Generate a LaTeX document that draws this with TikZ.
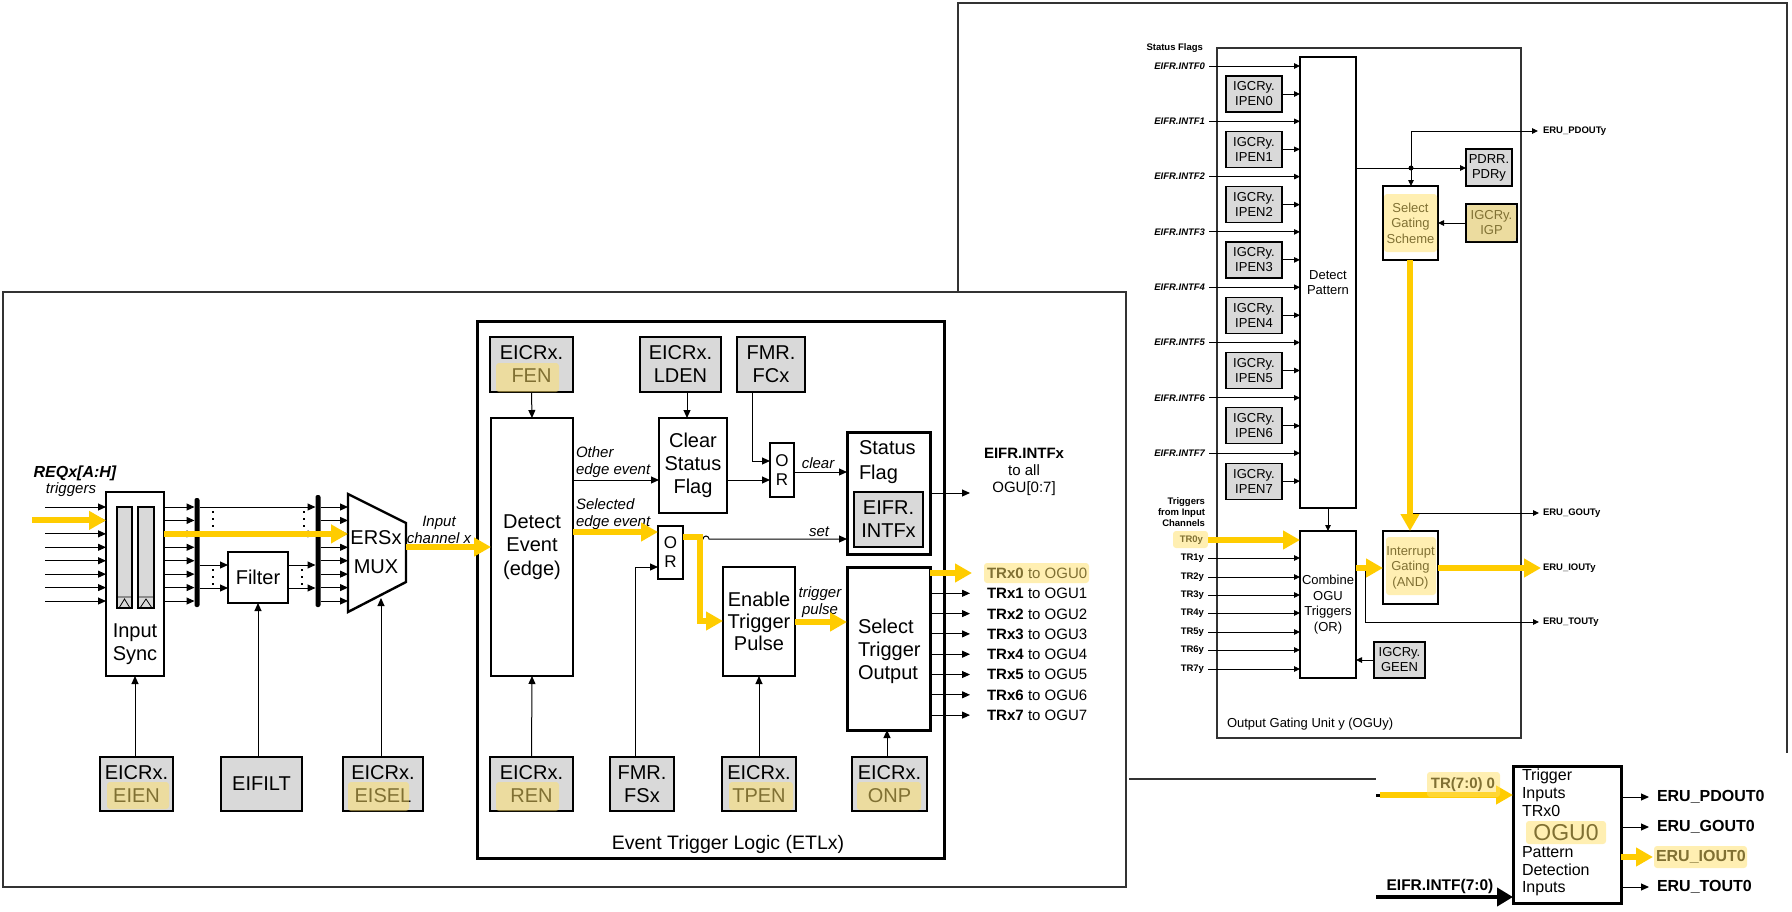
\documentclass[tikz,border=0pt]{standalone}
\usepackage{fontspec}
\setmainfont{Liberation Sans}
\usetikzlibrary{arrows.meta}
\definecolor{regfill}{HTML}{D9D9D9}
\definecolor{yel}{HTML}{FFCC00}
\definecolor{hlc}{HTML}{FFE066}
\definecolor{frm}{HTML}{333333}
\newcommand\fsz[2]{\fontsize{#1pt}{#2pt}\selectfont}
\begin{document}
\begin{tikzpicture}[x=1pt,y=-1pt,
  every node/.style={inner sep=0pt,outer sep=0pt},
  blk/.style={draw,line width=2.6pt,fill=white,align=center,font=\fsz{20}{23}},
  reg/.style={draw,line width=2.6pt,fill=regfill,align=center,font=\fsz{20}{23}},
  oblk/.style={draw,line width=1.2pt,fill=white,align=center,font=\fsz{13}{15.5}},
  oreg/.style={draw,line width=1.2pt,fill=regfill,align=center,font=\fsz{13}{15}},
  arr/.style={line width=1pt,-{Triangle[length=8pt,width=7pt]}},
  sarr/.style={line width=0.9pt,-{Triangle[length=6pt,width=5.5pt]}},
  yarr/.style={line width=6pt,draw=yel,-{Triangle[length=17pt,width=18pt]}},
  busbar/.style={fill=black,rounded corners=2pt,minimum width=5pt},
  dotline/.style={line width=2pt,dash pattern=on 2pt off 5pt},
  lab/.style={font=\fsz{15}{17}\itshape},
  olab/.style={font=\fsz{9.5}{11}\bfseries},
  hl/.style={fill=hlc,fill opacity=0.5,rounded corners=3pt}
]
\useasboundingbox (0,0) rectangle (1792,911);

% ---------- outer frames ----------
\draw[frm,line width=1.5pt] (3,292) rectangle (1126,887);
\draw[frm,line width=1.3pt] (958,291) -- (958,3) -- (1787,3) -- (1787,753);
\draw[frm,line width=1.2pt] (1129,779) -- (1376,779);

% ---------- input stage ----------
\node[font=\fsz{16}{18}\bfseries\itshape] (req) at (75,473) {REQx[A:H]};
\node[lab] (trg) at (71,490) {triggers};

\node[draw,line width=1.6pt,fill=white,minimum width=58pt,minimum height=184pt] (sync) at (135,584) {};
\node[font=\fsz{20}{23},align=center] (synct) at (135,644) {Input\\Sync};
\node[draw,line width=1.2pt,fill=regfill,minimum width=15pt,minimum height=101pt] (bar1) at (124.5,557.5) {};
\node[draw,line width=1.2pt,fill=regfill,minimum width=16pt,minimum height=101pt] (bar2) at (146,557.5) {};
\draw[line width=0.8pt] (117,597) -- (132,597) (119,608) -- (124.5,599) -- (130,608);
\draw[line width=0.8pt] (138,597) -- (154,597) (140,608) -- (146,599) -- (152,608);

\node[busbar,minimum height=109pt] (bus1) at (197,552.5) {};
\node[busbar,minimum height=112pt] (bus2) at (318,551) {};
\node[draw,line width=1.3pt,fill=white,minimum width=60pt,minimum height=51pt,font=\fsz{20}{23}] (filter) at (258,577.5) {Filter};

\draw[line width=2.4pt,fill=white] (348,494) -- (406,523) -- (406,582) -- (348,612) -- cycle;
\coordinate (muxw) at (348,553);
\coordinate (muxe) at (406,547);
\node[font=\fsz{20}{29},align=center] (muxt) at (376,552) {ERSx\\MUX};

\foreach \i in {0,...,7} {
  \pgfmathsetmacro\yy{507+13.43*\i}
  \draw[arr] (45,\yy) -- (sync.west |- 0,\yy);
  \draw[arr] (sync.east |- 0,\yy) -- (bus1.west |- 0,\yy);
  \draw[arr] (bus2.east |- 0,\yy) -- (muxw |- 0,\yy);
}
\draw[arr] (bus1.east |- 0,507) -- (bus2.west |- 0,507);
\draw[arr] (bus1.east |- 0,533.9) -- (bus2.west |- 0,533.9);
\draw[arr] (bus1.east |- 0,565) -- (filter.west |- 0,565);
\draw[arr] (bus1.east |- 0,588) -- (filter.west |- 0,588);
\draw[arr] (filter.east |- 0,565) -- (bus2.west |- 0,565);
\draw[arr] (filter.east |- 0,588) -- (bus2.west |- 0,588);
\draw[dotline] (213,511) -- (213,531);
\draw[dotline] (304,511) -- (304,531);
\draw[dotline] (213,569) -- (213,585);
\draw[dotline] (302,569) -- (302,585);

\draw[yarr] (32,520.4) -- (sync.west |- 0,520.4);
\draw[yarr] (sync.east |- 0,533.9) -- (muxw |- 0,533.9);
\node[lab,align=center] (inch) at (439,530) {Input\\channel x};

\node[reg,minimum width=73pt,minimum height=54pt] (eien) at (136.5,784) {EICRx.\\EIEN};
\node[reg,line width=1.3pt,minimum width=81pt,minimum height=54pt] (eifilt) at (261.5,784) {EIFILT};
\node[reg,minimum width=80pt,minimum height=54pt] (eisel) at (383,784) {EICRx.\\EISEL};
\draw[arr] (eien.north -| 135,0) -- (sync.south -| 135,0);
\draw[arr] (filter.south |- eifilt.north) -- (filter.south);
\draw[arr] (eisel.north -| 381,0) -- (381,598);

% ---------- event trigger logic ----------
\node[draw,line width=3pt,minimum width=467pt,minimum height=537pt] (etl) at (710.5,589.5) {};
\node[font=\fsz{19.5}{22}] (etlt) at (728,844) {Event Trigger Logic (ETLx)};

\node[reg,minimum width=83pt,minimum height=55pt] (fen) at (531.5,364.5) {EICRx.\\FEN};
\node[blk,minimum width=82pt,minimum height=258pt,font=\fsz{20}{23.5}] (det) at (532,547) {Detect\\Event\\(edge)};
\node[reg,minimum width=81pt,minimum height=55pt] (lden) at (680.5,364.5) {EICRx.\\LDEN};
\node[blk,line width=2pt,minimum width=68pt,minimum height=95pt] (csf) at (693,465.5) {Clear\\Status\\Flag};
\node[reg,line width=2pt,minimum width=68pt,minimum height=55pt] (fcx) at (771,364.5) {FMR.\\FCx};
\node[blk,minimum width=24pt,minimum height=54pt,font=\fsz{17}{19}] (or1) at (782,470) {O\\R};
\node[blk,line width=3pt,minimum width=83pt,minimum height=122pt] (sf) at (888.5,493) {};
\node[font=\fsz{20}{25},align=left,anchor=west] (sft) at (859,462) {Status\\Flag};
\node[reg,line width=2pt,minimum width=69pt,minimum height=55pt] (eifr) at (888.5,519.5) {EIFR.\\INTFx};
\node[blk,minimum width=25pt,minimum height=53pt,font=\fsz{17}{19}] (or2) at (670.5,552.5) {O\\R};
\node[blk,minimum width=72pt,minimum height=109pt,font=\fsz{20}{22}] (etp) at (759,621.5) {Enable\\Trigger\\Pulse};
\node[blk,line width=3pt,minimum width=83pt,minimum height=163pt] (sto) at (888.5,648.5) {};
\node[font=\fsz{20}{23},align=left,anchor=west] (stot) at (858,651) {Select\\Trigger\\Output};

\node[reg,minimum width=83pt,minimum height=54pt] (ren) at (531.5,784) {EICRx.\\REN};
\node[reg,line width=1.5pt,minimum width=64pt,minimum height=54pt] (fsx) at (642,784) {FMR.\\FSx};
\node[reg,line width=2pt,minimum width=74pt,minimum height=54pt] (tpen) at (759,784) {EICRx.\\TPEN};
\node[reg,line width=2pt,minimum width=75pt,minimum height=54pt] (onp) at (889.5,784) {EICRx.\\ONP};

\draw[yarr] (muxe) -- (det.west |- muxe);
\draw[arr] (fen.south) -- (det.north);
\draw[arr] (lden.south -| 687,0) -- (csf.north -| 687,0);
\draw[arr] (fcx.south -| 752,0) |- (or1.west |- 0,461);
\draw[arr] (det.east |- 0,480) -- (csf.west |- 0,480);
\draw[arr] (csf.east |- 0,480) -- (or1.west |- 0,480);
\draw[arr] (or1.east |- 0,472) -- (sf.west |- 0,472);
\node[lab] (clr) at (818,463) {clear};
\node[lab,align=left,anchor=west] (oth) at (576,462) {Other\\edge event};
\node[lab,align=left,anchor=west] (slc) at (576,514.5) {Selected\\edge event};

\draw[arr] (or2.east |- 0,539) -- (703,539) arc (180:360:3) -- (sf.west |- 0,539);
\node[lab] (setl) at (819,532) {set};
\draw[yarr] (det.east |- 0,532) -- (or2.west |- 0,532);
\draw[arr] (fsx.north -| 635,0) |- (or2.west |- 0,567);
\draw[yarr] (or2.east |- 0,537) -| (700,621) -- (etp.west |- 0,621);
\node[lab,align=center] (tpl) at (820,602.5) {trigger\\pulse};
\draw[yarr] (etp.east |- 0,622) -- (sto.west |- 0,622);

\draw[arr] (sf.east |- 0,493) -- (970,493);
\node[font=\fsz{15}{17},align=center] (intfx) at (1024,472) {\textbf{EIFR.INTFx}\\to all\\OGU[0:7]};

\foreach \k in {0,...,7} {
  \pgfmathsetmacro\yy{573+20.3*\k}
  \draw[arr] (sto.east |- 0,\yy) -- (970,\yy);
  \node[anchor=base west,font=\fsz{15}{17}\bfseries] (trx\k) at (987,\yy+5.4) {TRx\k};
  \node[anchor=base west,font=\fsz{15}{17}] (tog\k) at (1028,\yy+5.4) {to OGU\k};
}
\draw[yarr] (sto.east |- 0,573) -- (972,573);

\draw[arr] (ren.north) -- (det.south);
\draw[arr] (tpen.north) -- (etp.south);
\draw[arr] (onp.north -| 887,0) -- (sto.south -| 887,0);

% ---------- output gating unit y ----------
\node[olab,anchor=east] (sflags) at (1203,48) {Status Flags};
\node[draw=frm,line width=1.3pt,minimum width=304pt,minimum height=690pt] (ogu) at (1369,393) {};
\node[oblk,minimum width=56pt,minimum height=451pt] (dp) at (1328,282.5) {Detect\\Pattern};

\foreach \k in {0,...,7} {
  \pgfmathsetmacro\yy{66+55.3*\k}
  \pgfmathsetmacro\yb{94+55.3*\k}
  \node[anchor=east,font=\fsz{9.5}{11}\bfseries\itshape] (intf\k) at (1205,\yy) {EIFR.INTF\k};
  \draw[sarr,shorten <=4pt] (intf\k.east) -- (dp.west |- intf\k.east);
  \node[oreg,minimum width=56pt,minimum height=36pt] (ipen\k) at (1254,\yb) {IGCRy.\\IPEN\k};
  \draw[sarr] (ipen\k.east) -- (dp.west |- ipen\k.east);
}

\node[olab,align=right,anchor=east] (trgin) at (1205,512) {Triggers\\from Input\\Channels};
\node[oblk,minimum width=56pt,minimum height=147pt,font=\fsz{13}{15.7}] (comb) at (1328,604.5) {Combine\\OGU\\Triggers\\(OR)};
\node[olab,anchor=east] (tr0) at (1203,540) {TR0y};
\draw[yarr] (1208,540) -- (comb.west |- 0,540);
\foreach \k/\yy in {1/558,2/577,3/595,4/613,5/632,6/650,7/669} {
  \node[olab,anchor=east] (tr\k) at (1204,\yy) {TR\k y};
  \draw[sarr,shorten <=4pt] (tr\k.east) -- (comb.west |- tr\k.east);
}
\draw[sarr] (dp.south) -- (comb.north);

\node[oblk,line width=1.6pt,minimum width=55pt,minimum height=73pt] (ig) at (1410.5,567.5) {Interrupt\\Gating\\(AND)};
\node[oblk,line width=1.6pt,minimum width=55pt,minimum height=74pt] (sgs) at (1410.5,223) {Select\\Gating\\Scheme};
\node[oreg,minimum width=46pt,minimum height=37pt] (pdrr) at (1489,167.5) {PDRR.\\PDRy};
\node[oreg,minimum width=51pt,minimum height=38pt] (igp) at (1491.5,223) {IGCRy.\\IGP};
\node[oreg,minimum width=51pt,minimum height=36pt] (geen) at (1399.5,660) {IGCRy.\\GEEN};
\node[anchor=west,font=\fsz{13}{15}] (ogul) at (1227,724) {Output Gating Unit y (OGUy)};

\draw[sarr] (dp.east |- 0,168) -- (pdrr.west |- 0,168);
\fill (1411,168) circle (2.5);
\draw[sarr] (1411,168) |- (1538,131);
\draw[sarr] (1411,168) -- (sgs.north -| 1411,0);
\draw[sarr] (igp.west) -- (sgs.east |- igp.west);
\draw[sarr] (geen.west) -- (comb.east |- geen.west);
\draw[yarr] (sgs.south -| 1410,0) -- (ig.north -| 1410,0);
\draw[sarr] (1413,513) -- (1539,513);
\draw[yarr] (comb.east |- 0,568) -- (ig.west |- 0,568);
\draw[yarr] (ig.east |- 0,568) -- (1541,568);
\draw[sarr] (1365,571) |- (1539,622);
\node[olab,anchor=west] (pdouty) at (1543,131) {ERU\_PDOUTy};
\node[olab,anchor=west] (gouty) at (1543,513) {ERU\_GOUTy};
\node[olab,anchor=west] (iouty) at (1543,568) {ERU\_IOUTy};
\node[olab,anchor=west] (touty) at (1543,622) {ERU\_TOUTy};

% ---------- OGU0 summary block ----------
\node[draw,line width=3pt,fill=white,minimum width=108pt,minimum height=137pt] (ogu0) at (1567,834.5) {};
\foreach \t/\yy [count=\n] in {Trigger/775,Inputs/793,TRx0/811,Pattern/852,Detection/870,Inputs/887} {
  \node[anchor=base west,font=\fsz{16}{18}] (ogut\n) at (1522,\yy+5.7) {\t};
}
\node[font=\fsz{23}{25}] (ogu0t) at (1566,833) {OGU0};
\draw[line width=3pt] (1376,795) -- (1395,795);
\draw[yarr] (1380,795) -- (ogu0.west |- 0,795);
\node[font=\fsz{15}{17}\bfseries] (trlab) at (1463,785) {TR(7:0) 0};
\node[font=\fsz{15.5}{17}\bfseries] (intflab) at (1440,886) {EIFR.INTF(7:0)};
\draw[line width=4pt,-{Triangle[length=16pt,width=18pt]}] (1376,897) -- (ogu0.west |- 0,897);
\draw[arr] (ogu0.east |- 0,797) -- (1649,797);
\draw[arr] (ogu0.east |- 0,827) -- (1649,827);
\draw[yarr] (ogu0.east |- 0,857) -- (1653,857);
\draw[arr] (ogu0.east |- 0,887) -- (1649,887);
\node[anchor=west,font=\fsz{16}{18}\bfseries] (pdout0) at (1657,797) {ERU\_PDOUT0};
\node[anchor=west,font=\fsz{16}{18}\bfseries] (gout0) at (1657,827) {ERU\_GOUT0};
\node[anchor=west,font=\fsz{16}{18}\bfseries] (iout0) at (1656,857) {ERU\_IOUT0};
\node[anchor=west,font=\fsz{16}{18}\bfseries] (tout0) at (1657,887) {ERU\_TOUT0};

% ---------- highlight marks ----------
\fill[hl] (107,782) rectangle (169,809);
\fill[hl] (348,782) rectangle (409,811);
\fill[hl] (496,363) rectangle (559,392);
\fill[hl] (496,782) rectangle (559,811);
\fill[hl] (729,782) rectangle (793,810);
\fill[hl] (857,782) rectangle (921,810);
\fill[hl] (984,563) rectangle (1089,583);
\fill[hl] (1173,531) rectangle (1208,548);
\fill[hl] (1384,194) rectangle (1437,252);
\fill[hl] (1386,537) rectangle (1436,595);
\fill[hl] (1467,205) rectangle (1516,241);
\fill[hl] (1427,772) rectangle (1500,797);
\fill[hl] (1526,821) rectangle (1606,844);
\fill[hl] (1654,846) rectangle (1747,868);
\end{tikzpicture}
\end{document}
